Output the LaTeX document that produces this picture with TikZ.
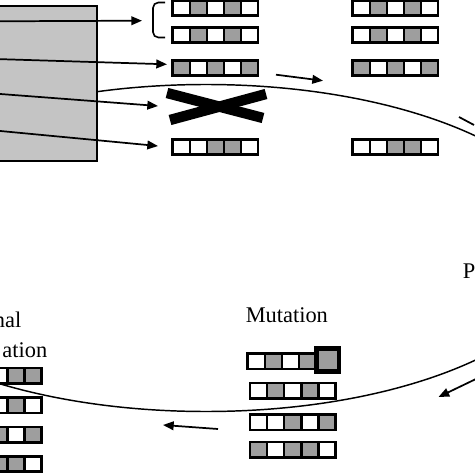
\documentclass[tikz,border=0pt]{standalone}
\usepackage{fontspec}
\setmainfont{Liberation Serif}
\usetikzlibrary{arrows.meta}
\colorlet{gene0}{white}
\definecolor{gene1}{RGB}{158,158,158}
\definecolor{popgray}{RGB}{196,196,196}
\tikzset{
	gene/.style={draw, line width=1.9pt, inner sep=0pt, minimum width=12.8pt, minimum height=11.6pt},
	arr/.style={line width=1.3pt, -{Triangle[length=8pt,width=6.5pt]}},
	lbl/.style={inner sep=0pt, font=\fontsize{16.8pt}{20pt}\selectfont}
}
\newcommand{\chromo}[4]{%
	\foreach \g [count=\i] in {#4}
		\node[gene, fill=gene\g] (#1-\i) at ({#2+(\i-0.5)*17.1}, #3) {};
}

\begin{document}
\begin{tikzpicture}[x=0.75pt,y=0.75pt,yscale=-1,xscale=1]
	\useasboundingbox (0,0) rectangle (474,474);
	\draw[line width=1.1pt] (206,248) ellipse [x radius=370, y radius=163.5];
	\draw[line width=1.5pt, fill=popgray] (-30,5.7) rectangle (96.7,160.7);
	\coordinate (in1) at (-5,21.3);
	\coordinate (in2) at (-5,59);
	\coordinate (in3) at (-5,93.6);
	\coordinate (in4) at (-5,130.5);
	\coordinate (to1) at (142,20.7);
	\coordinate (to2) at (167,64.3);
	\coordinate (to3) at (158,106);
	\coordinate (to4) at (158,146);
	\draw[arr] (in1) -- (to1);
	\draw[arr] (in2) -- (to2);
	\draw[arr] (in3) -- (to3);
	\draw[arr] (in4) -- (to4);
	\draw[line width=1.2pt, rounded corners=4pt] (165,2.5) -- (153,2.5) -- (153,37.5) -- (165,37.5);
	\chromo{pa1}{172.7}{8}{0,1,0,1,0}
	\chromo{pa2}{172.7}{35}{0,1,0,1,0}
	\chromo{pa3}{172.7}{68}{1,0,1,0,1}
	\chromo{pa4}{172.7}{147}{0,0,1,1,0}
	\chromo{ch1}{352.7}{8}{0,1,0,1,0}
	\chromo{ch2}{352.7}{35}{0,1,0,1,0}
	\chromo{ch3}{352.7}{68}{1,0,1,0,1}
	\chromo{ch4}{352.7}{147}{0,0,1,1,0}
	\draw[line width=7.8pt] (167,93) -- (263,118);
	\draw[line width=7.8pt] (170,120) -- (266,94);
	\coordinate (s1) at (276,74.7);
	\coordinate (s2) at (323,80.7);
	\draw[arr] (s1) -- (s2);
	\coordinate (r1) at (459,117);
	\coordinate (r2) at (474,125);
	\draw[line width=1.3pt] (r1) -- (r2);
	\chromo{mu1}{247.7}{361.3}{0,1,0,1}
	\node[gene, fill=gene1, line width=3.4pt, minimum width=16.9pt, minimum height=16.9pt] (mu1-5) at (327.5,360) {};
	\chromo{mu2}{250}{390.5}{0,1,0,1,0}
	\chromo{mu3}{250}{422.2}{0,0,1,0,1}
	\chromo{mu4}{250}{449.7}{1,0,1,1,0}
	\chromo{np1}{-9.6}{375.8}{0,1,1}
	\chromo{np2}{-9.6}{405.3}{0,1,0}
	\chromo{np3}{-9.6}{434.7}{1,0,1}
	\chromo{np4}{-9.6}{464}{1,1,0}
	\coordinate (b1) at (478,378);
	\coordinate (b2) at (438.5,397);
	\draw[arr] (b1) -- (b2);
	\coordinate (c1) at (218,429);
	\coordinate (c2) at (163,425);
	\draw[arr] (c1) -- (c2);
	\node[lbl, anchor=base west] (mutlbl) at (245.5,322) {Mutation};
	\node[lbl, anchor=base east] (fin1) at (21.5,327) {nal};
	\node[lbl, anchor=base east] (fin2) at (47.5,357) {ation};
	\node[lbl, anchor=base west] (plbl) at (462.5,278) {P};
\end{tikzpicture}
\end{document}
